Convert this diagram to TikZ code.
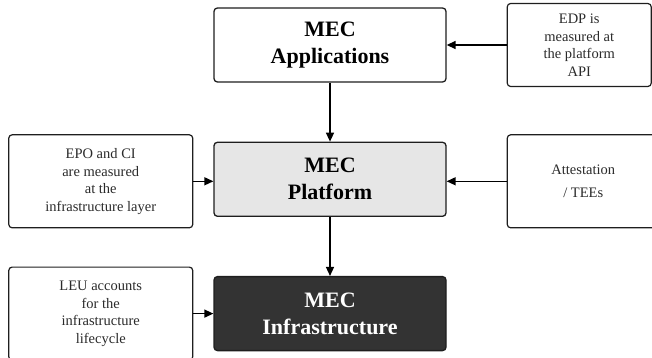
\documentclass[tikz,border=0pt]{standalone}
\usepackage{fontspec}
\setmainfont{Liberation Serif}
\usepackage{xcolor}
\usetikzlibrary{arrows.meta,positioning}
\definecolor{mecInk}{HTML}{1E1E1E}
\definecolor{mecText}{HTML}{2A2A2A}
\definecolor{mecGray}{HTML}{E6E6E6}
\definecolor{mecDark}{HTML}{333333}

\begin{document}
\begin{tikzpicture}[
  >=Latex,
  layer/.style={rounded corners=1.2mm, draw=mecInk, line width=1.3pt, align=center,
    minimum width=232pt, minimum height=74pt, font=\fontsize{22}{27}\selectfont\bfseries},
  note/.style={rounded corners=1.2mm, draw=mecInk, line width=1.2pt, align=center,
    text=mecText, font=\fontsize{14.5}{17.5}\selectfont},
  flow/.style={-{Triangle[length=9pt,width=8pt]}, line width=1.4pt, draw=black}
]
  \useasboundingbox (0,0) rectangle (652pt,-358pt);
  \node[layer,fill=white] (app) at (330pt,-45pt) {MEC\\Applications};
  \node[layer,fill=mecGray,below=59pt of app] (plat) {MEC\\Platform};
  \node[layer,fill=mecDark,text=white,below=59pt of plat] (infra) {MEC\\Infrastructure};
  \node[note,minimum width=144pt,minimum height=83pt,right=60pt of app] (edp) {EDP is\\measured at\\the platform\\API};
  \node[note,minimum width=152pt,minimum height=93pt,right=60pt of plat,yshift=-2pt,
    font=\fontsize{14.5}{22.5}\selectfont] (att) {Attestation\\/ TEEs};
  \node[note,minimum width=184pt,minimum height=93pt,left=20pt of plat,yshift=-2pt] (epo) {EPO and CI\\are measured\\at the\\infrastructure layer};
  \node[note,minimum width=184pt,minimum height=93pt,left=20pt of infra] (leu) {LEU accounts\\for the\\infrastructure\\lifecycle};
  \draw[flow] (app.south) -- (plat.north);
  \draw[flow] (plat.south) -- (infra.north);
  \draw[flow] (edp.west) -- (app.east);
  \draw[flow] (att.west) -- (att.west -| plat.east);
  \draw[flow] (epo.east) -- (epo.east -| plat.west);
  \draw[flow] (leu.east) -- (infra.west);
\end{tikzpicture}
\end{document}
